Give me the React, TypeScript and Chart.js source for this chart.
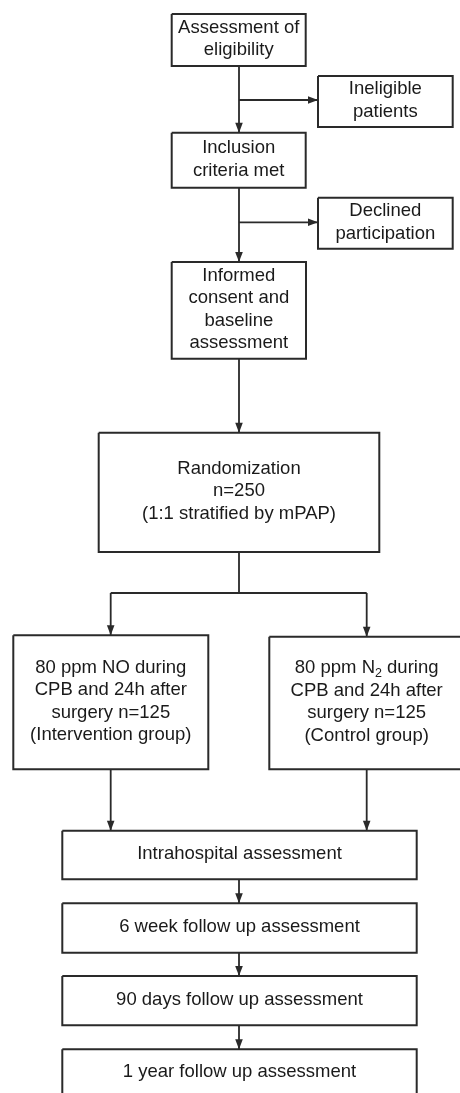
import React, { useEffect, useRef } from "react";
import { Chart, registerables } from "chart.js";

Chart.register(...registerables);

// ---- Flowchart content (chart-value coordinates: x 0..460, y 0..1093 top-down) ----
const boxText: string[][] = [
  ["Assessment of", "eligibility"],
  ["Ineligible", "patients"],
  ["Inclusion", "criteria met"],
  ["Declined", "participation"],
  ["Informed", "consent and", "baseline", "assessment"],
  ["Randomization", "n=250", "(1:1 stratified by mPAP)"],
  ["80 ppm NO during", "CPB and 24h after", "surgery n=125", "(Intervention group)"],
  ["80 ppm N_2 during", "CPB and 24h after", "surgery n=125", "(Control group)"],
  ["Intrahospital assessment"],
  ["6 week follow up assessment"],
  ["90 days follow up assessment"],
  ["1 year follow up assessment"],
];
const boxLeft = [171.7, 318, 171.7, 318, 171.7, 98.7, 13.3, 269.3, 62.3, 62.3, 62.3, 62.3];
const boxRight = [305.7, 452.7, 305.7, 452.7, 306, 379.3, 208.3, 464, 416.7, 416.7, 416.7, 416.7];
const boxTop = [14, 76, 132.7, 197.7, 262, 432.7, 635.3, 636.7, 830.7, 903.3, 976, 1049.3];
const boxBottom = [66, 127, 187.7, 248.7, 358.7, 552, 769.3, 769.3, 879.3, 952.7, 1025.3, 1097];

// connectors: x/y point lists, and whether they end with an arrowhead
const connectorX: number[][] = [
  [239, 239],
  [239, 318],
  [239, 239],
  [239, 318],
  [239, 239],
  [239, 239],
  [110.7, 366.7],
  [110.7, 110.7],
  [366.7, 366.7],
  [110.7, 110.7],
  [366.7, 366.7],
  [239, 239],
  [239, 239],
  [239, 239],
];
const connectorY: number[][] = [
  [66, 132.7],
  [100, 100],
  [187.7, 262],
  [222.3, 222.3],
  [358.7, 432.7],
  [552, 593],
  [593, 593],
  [593, 635.3],
  [593, 636.7],
  [769.3, 830.7],
  [769.3, 830.7],
  [879.3, 903.3],
  [952.7, 976],
  [1025.3, 1049.3],
];
const connectorArrow = [true, true, true, true, true, false, false, true, true, true, true, true, true, true];

const LINE_COLOR = "#2a2a2a";
const TEXT_COLOR = "#1a1a1a";
const FONT_SIZE = 18.5;
const SUB_SIZE = 12.5;
const LINE_HEIGHT = 22.5;
const FONT_FAMILY = '"Liberation Sans", Arial, sans-serif';

function drawRichLine(ctx: CanvasRenderingContext2D, text: string, cx: number, cy: number) {
  const parts = text.split(/(_\d)/).filter((p) => p.length > 0);
  const segs = parts.map((p) => {
    const sub = /^_\d$/.test(p);
    const t = sub ? p.slice(1) : p;
    ctx.font = `${sub ? SUB_SIZE : FONT_SIZE}px ${FONT_FAMILY}`;
    return { t, sub, w: ctx.measureText(t).width };
  });
  const total = segs.reduce((s, g) => s + g.w, 0);
  let x = cx - total / 2;
  ctx.textAlign = "left";
  for (const g of segs) {
    ctx.font = `${g.sub ? SUB_SIZE : FONT_SIZE}px ${FONT_FAMILY}`;
    ctx.fillText(g.t, x, g.sub ? cy + 5 : cy);
    x += g.w;
  }
}

const flowPlugin = {
  id: "flowText",
  afterDatasetsDraw(chart: any) {
    const { ctx } = chart;
    const xs = chart.scales.x;
    const ys = chart.scales.y;
    ctx.save();
    // arrowheads
    chart.data.datasets.forEach((ds: any, di: number) => {
      if (!ds.arrow) return;
      const pts = chart.getDatasetMeta(di).data;
      const a = pts[pts.length - 2];
      const b = pts[pts.length - 1];
      const ang = Math.atan2(b.y - a.y, b.x - a.x);
      const len = 10;
      const hw = 3.8;
      ctx.fillStyle = LINE_COLOR;
      ctx.beginPath();
      ctx.moveTo(b.x, b.y);
      ctx.lineTo(b.x - len * Math.cos(ang) + hw * Math.sin(ang), b.y - len * Math.sin(ang) - hw * Math.cos(ang));
      ctx.lineTo(b.x - len * Math.cos(ang) - hw * Math.sin(ang), b.y - len * Math.sin(ang) + hw * Math.cos(ang));
      ctx.closePath();
      ctx.fill();
    });
    // box text
    ctx.fillStyle = TEXT_COLOR;
    ctx.textBaseline = "middle";
    boxText.forEach((lines, i) => {
      const cx = xs.getPixelForValue((boxLeft[i] + boxRight[i]) / 2);
      const cy = ys.getPixelForValue((boxTop[i] + boxBottom[i]) / 2);
      const start = cy - ((lines.length - 1) * LINE_HEIGHT) / 2 - 1;
      lines.forEach((ln, k) => drawRichLine(ctx, ln, cx, start + k * LINE_HEIGHT));
    });
    ctx.restore();
  },
};

export default function App() {
  const ref = useRef<HTMLCanvasElement | null>(null);
  useEffect(() => {
    if (!ref.current) return;
    const boxSets = boxText.map((_, i) => ({
      data: [
        { x: boxLeft[i], y: boxTop[i] },
        { x: boxRight[i], y: boxTop[i] },
        { x: boxRight[i], y: boxBottom[i] },
        { x: boxLeft[i], y: boxBottom[i] },
        { x: boxLeft[i], y: boxTop[i] },
      ],
      showLine: true,
      pointRadius: 0,
      borderColor: LINE_COLOR,
      borderWidth: 2,
      borderJoinStyle: "miter" as const,
      tension: 0,
      fill: false,
    }));
    const connSets = connectorX.map((xs, i) => ({
      data: xs.map((x, k) => ({ x, y: connectorY[i][k] })),
      showLine: true,
      pointRadius: 0,
      borderColor: LINE_COLOR,
      borderWidth: 1.8,
      tension: 0,
      fill: false,
      arrow: connectorArrow[i],
    }));
    const chart = new Chart(ref.current, {
      type: "scatter",
      data: { datasets: [...boxSets, ...connSets] as any },
      options: {
        animation: false,
        responsive: true,
        maintainAspectRatio: false,
        layout: { padding: 0 },
        events: [],
        plugins: { legend: { display: false }, tooltip: { enabled: false } },
        scales: {
          x: { type: "linear", min: 0, max: 460, display: false },
          y: { type: "linear", min: 0, max: 1093, reverse: true, display: false },
        },
      },
      plugins: [flowPlugin],
    });
    return () => chart.destroy();
  }, []);
  return (
    <div style={{ position: "fixed", left: 0, top: 0, width: 460, height: 1093, background: "#fff" }}>
      <canvas ref={ref} />
    </div>
  );
}
